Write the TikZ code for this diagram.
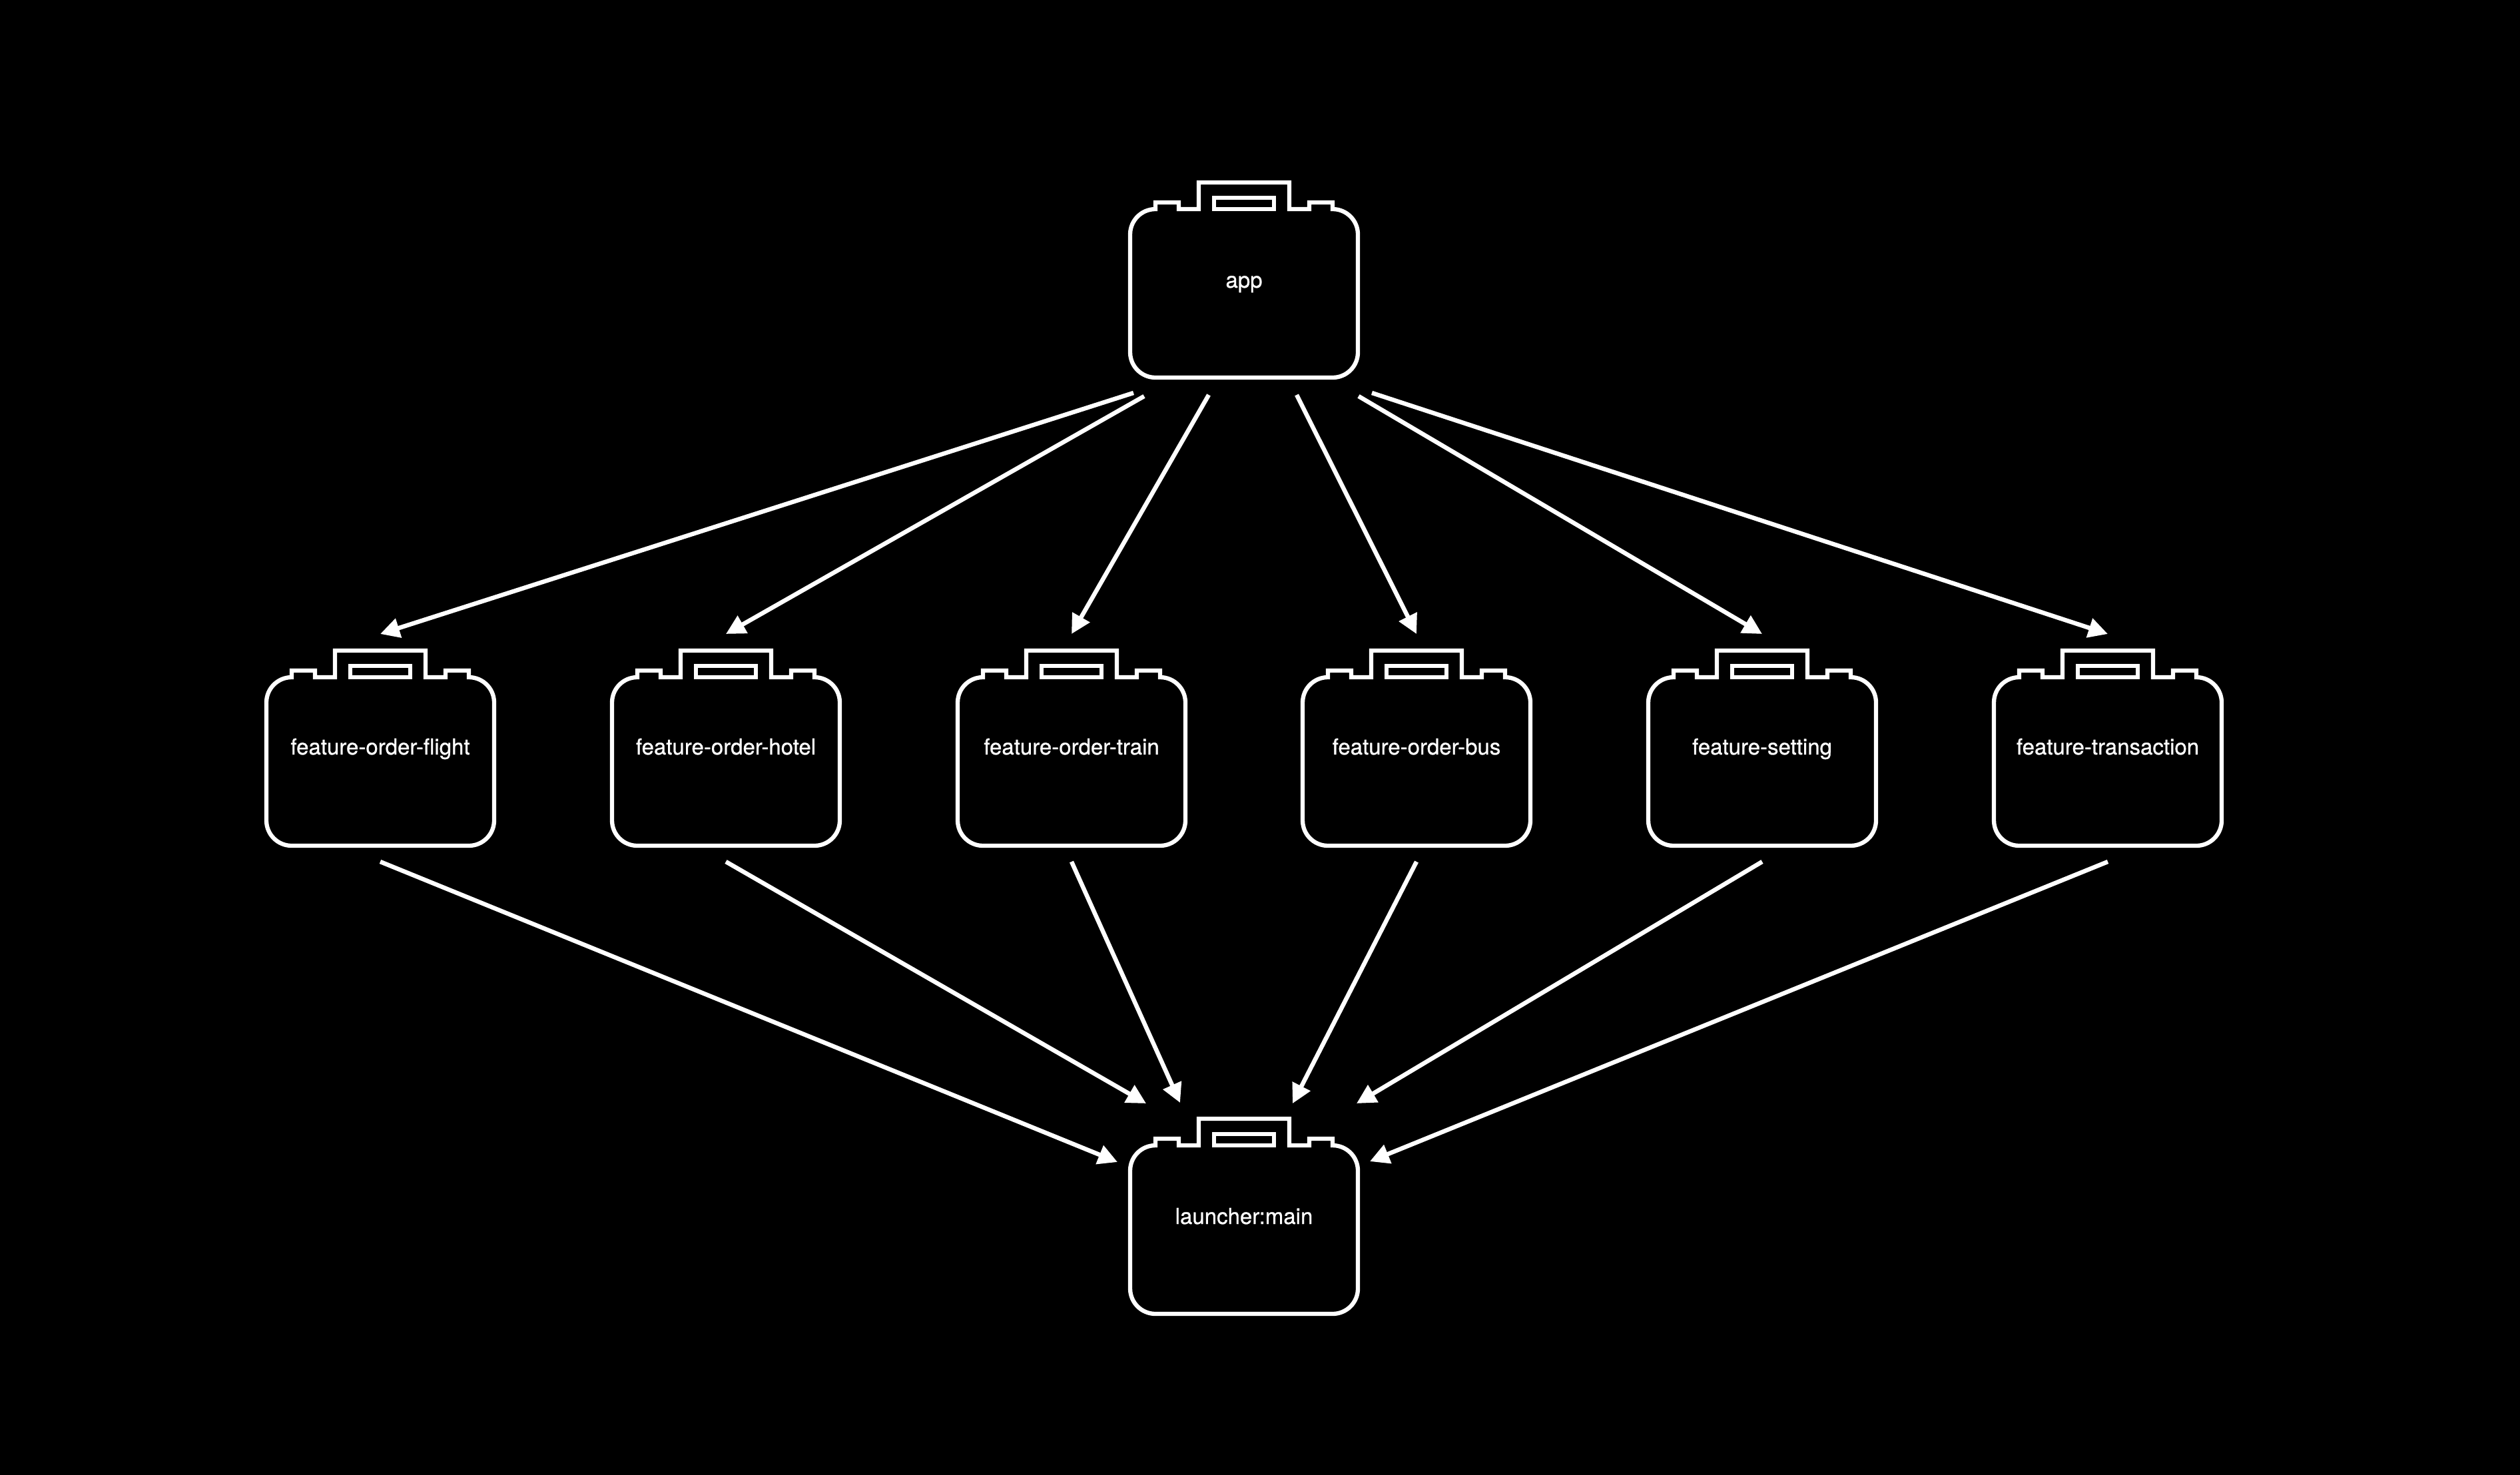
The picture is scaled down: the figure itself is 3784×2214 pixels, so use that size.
\documentclass[tikz,border=0pt]{standalone}
\usepackage{fontspec}
\newfontfamily\pkgfont[FakeBold=0.8]{TeX Gyre Heros}
\usetikzlibrary{arrows.meta}
\tikzset{
  pkgline/.style={draw=white,line width=6.3pt,line join=miter,miter limit=10},
  pkgarea/.style={minimum width=342pt,minimum height=293pt,inner sep=0pt,outer sep=0pt},
  pkgtext/.style={text=white,anchor=base,inner sep=0pt,font=\fontsize{33}{40}\selectfont\pkgfont},
  flow/.style={draw=white,line width=6.5pt,line cap=butt,-{Triangle[length=29pt,width=29pt]},white}
}
% #1 name, #2 centre x, #3 top y, #4 baseline y, #5 label
\newcommand{\pkgcase}[5]{%
  \node[pkgarea] (#1) at (#2,#3+146.5) {};
  \draw[pkgline,shift={(#2,#3)}]
    (-133,40) -- (-133,30) -- (-98,30) -- (-98,40) -- (-68,40) -- (-68,0) -- (68,0) -- (68,40)
    -- (98,40) -- (98,30) -- (133,30) -- (133,40)
    .. controls (154,40) and (171,57) .. (171,78) -- (171,255)
    .. controls (171,276) and (154,293) .. (133,293) -- (-133,293)
    .. controls (-154,293) and (-171,276) .. (-171,255) -- (-171,78)
    .. controls (-171,57) and (-154,40) .. (-133,40) -- cycle;
  \draw[pkgline,shift={(#2,#3)}] (-45,23) rectangle (45,40);
  \node[pkgtext] (#1-label) at (#2,#4) {#5};
}
\begin{document}
\begin{tikzpicture}[x=1pt,y=-1pt]
\useasboundingbox (0,0) rectangle (3784,2214);
\fill[black] (-6,-6) rectangle (3790,2220);
\pkgcase{app}{1868}{274}{432}{app}
\pkgcase{flight}{571}{977}{1133}{feature-order-flight}
\pkgcase{hotel}{1090}{977}{1133}{feature-order-hotel}
\pkgcase{train}{1609}{977}{1133}{feature-order-train}
\pkgcase{bus}{2127}{977}{1133}{feature-order-bus}
\pkgcase{setting}{2646}{977}{1133}{feature-setting}
\pkgcase{transaction}{3165}{977}{1133}{feature-transaction}
\pkgcase{launcher}{1868}{1680}{1838}{launcher:main}
\draw[flow] ([shift={(-166,23)}]app.south) -- ([shift={(0,-25)}]flight.north);
\draw[flow] ([shift={(-150,28)}]app.south) -- ([shift={(0,-25)}]hotel.north);
\draw[flow] ([shift={(-53,26)}]app.south) -- ([shift={(0,-25)}]train.north);
\draw[flow] ([shift={(79,26)}]app.south) -- ([shift={(0,-25)}]bus.north);
\draw[flow] ([shift={(172,28)}]app.south) -- ([shift={(0,-25)}]setting.north);
\draw[flow] ([shift={(192,23)}]app.south) -- ([shift={(0,-25)}]transaction.north);
\draw[flow] ([shift={(0,24)}]flight.south) -- ([shift={(-190,65)}]launcher.north);
\draw[flow] ([shift={(0,24)}]hotel.south) -- ([shift={(-147,-23)}]launcher.north);
\draw[flow] ([shift={(0,24)}]train.south) -- ([shift={(-96,-24)}]launcher.north);
\draw[flow] ([shift={(0,24)}]bus.south) -- ([shift={(73,-23)}]launcher.north);
\draw[flow] ([shift={(0,24)}]setting.south) -- ([shift={(169,-23)}]launcher.north);
\draw[flow] ([shift={(0,24)}]transaction.south) -- ([shift={(189,64)}]launcher.north);
\end{tikzpicture}
\end{document}
